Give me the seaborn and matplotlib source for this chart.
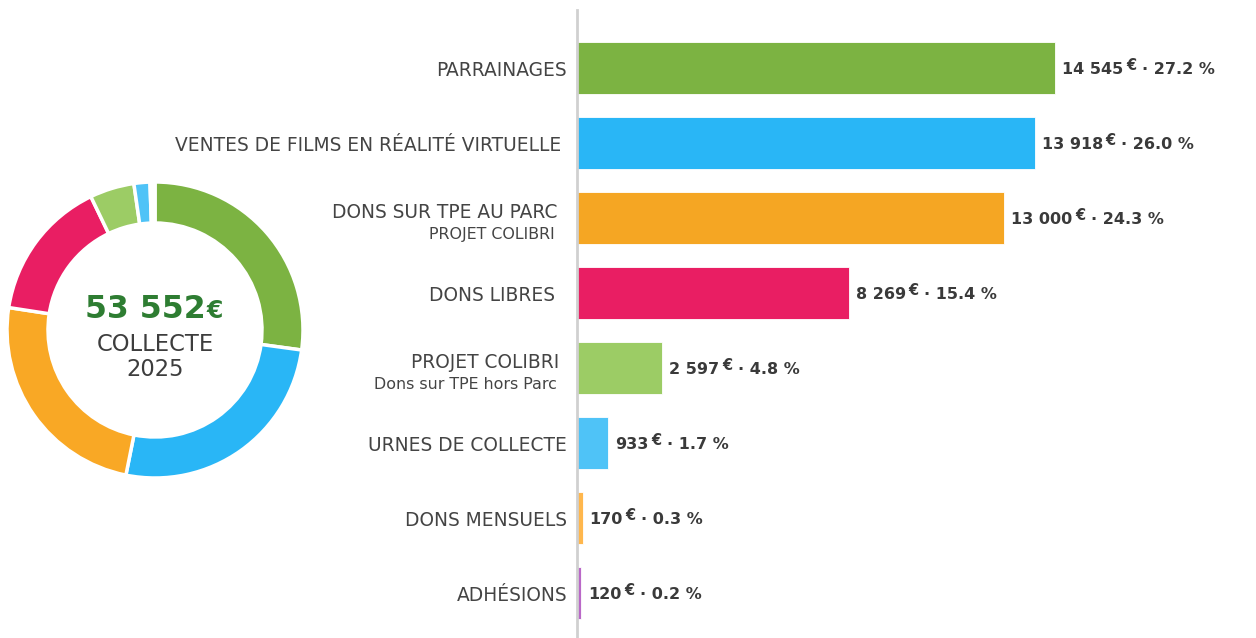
import seaborn as sns
import pandas as pd
import matplotlib.pyplot as plt
import matplotlib.transforms as mtransforms

# data
categories = ['PARRAINAGES', 'VENTES DE FILMS EN RÉALITÉ VIRTUELLE', 'DONS SUR TPE AU PARC',
              'DONS LIBRES', 'PROJET COLIBRI', 'URNES DE COLLECTE', 'DONS MENSUELS', 'ADHÉSIONS']
sublabels = ['', '', 'PROJET COLIBRI', '', 'Dons sur TPE hors Parc', '', '', '']
amounts = [14545, 13918, 13000, 8269, 2597, 933, 170, 120]
amount_labels = ['14 545', '13 918', '13 000', '8 269', '2 597', '933', '170', '120']
percents = ['27.2', '26.0', '24.3', '15.4', '4.8', '1.7', '0.3', '0.2']
total_label = '53 552'
center_lines = ['COLLECTE', '2025']

bar_colors = ['#7CB342', '#29B6F6', '#F5A623', '#E91E63', '#9CCC65', '#4FC3F7', '#FFB74D', '#BA68C8']
pie_colors = ['#7CB342', '#29B6F6', '#F9A825', '#E91E63', '#9CCC65', '#4FC3F7', '#FFB74D', '#BA68C8']

sns.set_style('white')
plt.rcParams['font.family'] = ['DejaVu Sans']

W, H = 1256, 638
fig = plt.figure(figsize=(W / 100, H / 100), dpi=100)

# ---- bar chart ----
ax = fig.add_axes([577 / W, 0, (W - 577) / W, (H - 10) / H])
df = pd.DataFrame({'cat': categories, 'amount': amounts})
sns.barplot(data=df, x='amount', y='cat', hue='cat', palette=bar_colors, orient='h',
            legend=False, width=0.69, saturation=1, ax=ax, edgecolor='#ffffff', linewidth=0.6)
ax.set_xlim(0, 20650)
ax.set_ylim(7.6, -0.77)
ax.set_xlabel('')
ax.set_ylabel('')
ax.set_xticks([])
ax.set_yticks([])
for s in ['top', 'right', 'bottom']:
    ax.spines[s].set_visible(False)
ax.spines['left'].set_color('#d0d0d0')
ax.spines['left'].set_linewidth(2)

label_pad = [10, 16, 20, 22, 18, 10, 10, 10]
for i, (cat, sub) in enumerate(zip(categories, sublabels)):
    tr = mtransforms.offset_copy(ax.transData, fig=fig, x=-label_pad[i], y=0, units='dots')
    if sub:
        ax.text(0, i - 0.07, cat, ha='right', va='center', fontsize=13.4, color='#444444',
                transform=tr, clip_on=False)
        ax.text(0, i + 0.22, sub, ha='right', va='center', fontsize=11.4, color='#444444',
                transform=mtransforms.offset_copy(ax.transData, fig=fig, x=-label_pad[i] - 2,
                                                  y=0, units='dots'), clip_on=False)
    else:
        ax.text(0, i + 0.04, cat, ha='right', va='center', fontsize=13.4, color='#444444',
                transform=tr, clip_on=False)

# value labels: amount, raised euro sign, percentage
for i, (v, a, p) in enumerate(zip(amounts, amount_labels, percents)):
    tr = mtransforms.offset_copy(ax.transData, fig=fig, x=7, y=0, units='dots')
    t1 = ax.text(v, i + 0.02, a, ha='left', va='center', fontsize=11.5,
                 fontweight='bold', color='#3a3a3a', transform=tr)
    t2 = ax.annotate('€', xy=(1, 0.28), xycoords=t1, xytext=(2, 0), textcoords='offset points',
                     ha='left', va='bottom', fontsize=10.5, fontweight='bold', color='#3a3a3a')
    ax.annotate(f'· {p} %', xy=(1, 0), xycoords=(t2, t1), xytext=(4, 0),
                textcoords='offset points', ha='left', va='bottom', fontsize=11.5,
                fontweight='bold', color='#3a3a3a')

# ---- donut ----
cx, cy, R = 155, 330, 148
pax = fig.add_axes([(cx - 150) / W, (H - cy - 150) / H, 300 / W, 300 / H])
pax.pie(amounts, colors=pie_colors, startangle=90, counterclock=False, radius=1,
        wedgeprops=dict(width=41 / R, edgecolor='white', linewidth=2.5))
lim = 150 / R
pax.set_xlim(-lim, lim)
pax.set_ylim(-lim, lim)
pax.set_aspect('equal')
pax.axis('off')

pax.text(0.34, 0.081, total_label, ha='right', va='baseline', fontsize=22.7, fontweight='bold',
         color='#2E7D32')
pax.text(0.345, 0.081, '€', ha='left', va='baseline', fontsize=17, fontweight='bold',
         color='#2E7D32')
pax.text(0, -0.1, center_lines[0], ha='center', va='center', fontsize=16.3, color='#3d3d3d')
pax.text(0, -0.27, center_lines[1], ha='center', va='center', fontsize=16.3, color='#3d3d3d')

fig.savefig('out.png', dpi=100, facecolor='white')
